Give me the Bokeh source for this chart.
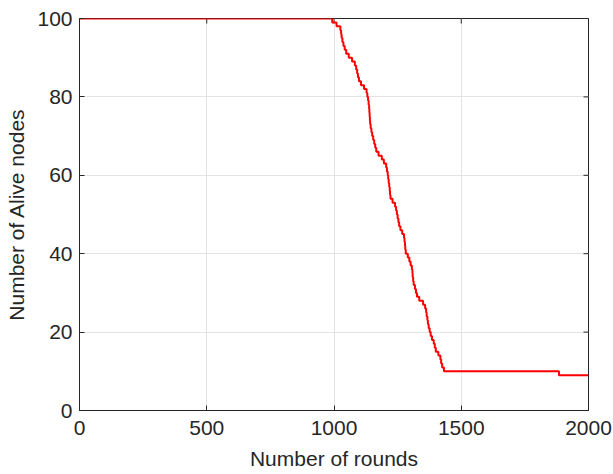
from bokeh.plotting import figure
from bokeh.models import Range1d, FixedTicker
from bokeh.embed import file_html
from bokeh.resources import INLINE

# Alive nodes per round (step changes)
alive = [100, 99, 98, 97, 96, 95, 94, 93, 92, 91, 90, 89, 88, 87, 86, 85, 84, 83, 82, 81,
         80, 79, 78, 77, 76, 75, 74, 73, 72, 71, 70, 69, 68, 67, 66, 65, 64, 63, 62, 61,
         60, 59, 58, 57, 56, 55, 54, 53, 52, 51, 50, 49, 48, 47, 46, 45, 44, 43, 42, 41,
         40, 39, 38, 37, 36, 35, 34, 33, 32, 31, 30, 29, 28, 27, 26, 25, 24, 23, 22, 21,
         20, 19, 18, 17, 16, 15, 14, 13, 12, 11, 10, 9, 9]
rounds = [0, 993, 1010, 1025, 1028, 1030, 1033, 1037, 1042, 1048, 1058, 1071, 1082, 1087, 1091, 1094, 1098, 1106, 1118, 1128,
          1131, 1134, 1136, 1138, 1139, 1140, 1141, 1142, 1144, 1147, 1150, 1154, 1158, 1162, 1166, 1175, 1188, 1196, 1205, 1208,
          1211, 1213, 1215, 1217, 1219, 1220, 1222, 1230, 1240, 1244, 1247, 1250, 1253, 1256, 1261, 1268, 1275, 1277, 1279, 1280,
          1282, 1290, 1296, 1301, 1306, 1308, 1309, 1311, 1313, 1318, 1322, 1326, 1335, 1350, 1358, 1362, 1364, 1367, 1369, 1372,
          1376, 1380, 1385, 1392, 1396, 1400, 1410, 1418, 1421, 1425, 1432, 1884, 2000]

x_ticks = [0, 500, 1000, 1500, 2000]
y_ticks = [0, 20, 40, 60, 80, 100]

FONT = "Liberation Sans"
AX = "#262626"
FS = "21px"
X_MAX, Y_MAX = 2000, 100

p = figure(width=613, height=474, output_backend="svg", toolbar_location=None,
           x_range=Range1d(0, X_MAX), y_range=Range1d(0, Y_MAX),
           min_border_left=79, min_border_right=25, min_border_top=18, min_border_bottom=64)
p.border_fill_color = "white"
p.background_fill_color = "white"
p.outline_line_color = AX
p.outline_line_width = 1

p.grid.grid_line_color = "#e3e3e3"
p.grid.grid_line_width = 1

# mirrored inward ticks on the right and top edges (MATLAB box style)
tick_dx = X_MAX * 0.0098
tick_dy = Y_MAX * 0.0128
p.segment(x0=[X_MAX] * len(y_ticks), y0=y_ticks, x1=[X_MAX - tick_dx] * len(y_ticks), y1=y_ticks,
          line_color=AX, line_width=1)
p.segment(x0=x_ticks, y0=[Y_MAX] * len(x_ticks), x1=x_ticks, y1=[Y_MAX - tick_dy] * len(x_ticks),
          line_color=AX, line_width=1)

p.step(rounds, alive, mode="after", line_color="#ff0000", line_width=2)

p.xaxis.ticker = FixedTicker(ticks=x_ticks)
p.yaxis.ticker = FixedTicker(ticks=y_ticks)

for ax in list(p.xaxis) + list(p.yaxis):
    ax.axis_line_color = AX
    ax.major_tick_line_color = AX
    ax.major_tick_in = 5
    ax.major_tick_out = 0
    ax.minor_tick_line_color = None
    ax.major_label_text_font = FONT
    ax.major_label_text_font_size = FS
    ax.major_label_text_color = AX
    ax.axis_label_text_font = FONT
    ax.axis_label_text_font_size = FS
    ax.axis_label_text_font_style = "normal"
    ax.axis_label_text_color = AX

p.xaxis.axis_label = "Number of rounds"
p.yaxis.axis_label = "Number of Alive nodes"
p.xaxis.major_label_standoff = 10
p.xaxis.axis_label_standoff = 9
p.yaxis.major_label_standoff = 7
p.yaxis.axis_label_standoff = 6

open("out.html", "w").write(file_html(p, INLINE))
